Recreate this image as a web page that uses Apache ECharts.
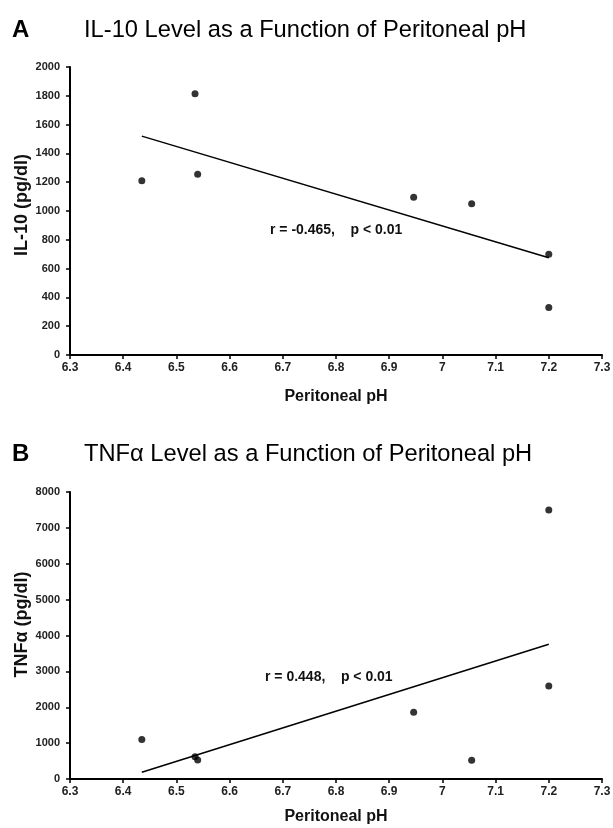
<!DOCTYPE html>
<html>
<head>
<meta charset="utf-8">
<script src="https://cdn.jsdelivr.net/npm/echarts@6/dist/echarts.min.js"></script>
<style>
  html, body { margin: 0; padding: 0; background: #fff; }
  #chart { width: 613px; height: 828px; }
</style>
</head>
<body>
<div id="chart"></div>
<script>
// panel A: IL-10 vs peritoneal pH
const phA = [6.435, 6.535, 6.54, 6.946, 7.055, 7.2, 7.2];
const il10 = [1210, 1815, 1255, 1095, 1050, 700, 330];
const fitPhA = [6.435, 7.2];
const fitIl10 = [1520, 675];

// panel B: TNFa vs peritoneal pH
const phB = [6.435, 6.535, 6.54, 6.946, 7.055, 7.2, 7.2];
const tnf = [1100, 620, 530, 1860, 520, 7495, 2595];
const fitPhB = [6.435, 7.2];
const fitTnf = [190, 3755];

const FONT = '"Liberation Sans", Arial, sans-serif';

const pairs = (xs, ys) => xs.map((x, i) => [x, ys[i]]);

const xAxisBase = (gridIndex, nameGap) => ({
  gridIndex,
  type: 'value',
  min: 6.3,
  max: 7.3,
  interval: 0.1,
  name: 'Peritoneal pH',
  nameLocation: 'middle',
  nameGap,
  nameMoveOverlap: false,
  nameTextStyle: { fontFamily: FONT, fontWeight: 'bold', fontSize: 16, color: '#111' },
  axisLine: { lineStyle: { color: '#000', width: 2 } },
  axisTick: { show: true, inside: false, length: 4, lineStyle: { color: '#000', width: 1.5 } },
  axisLabel: {
    margin: 7,
    fontFamily: FONT, fontWeight: 'bold', fontSize: 12, color: '#222',
    formatter: v => String(+v.toFixed(1))
  },
  splitLine: { show: false }
});

// shift = how far the rotated name sits above the plot middle
const yAxisBase = (gridIndex, max, interval, name, shift) => ({
  gridIndex,
  type: 'value',
  min: 0,
  max,
  interval,
  name,
  nameLocation: 'middle',
  nameGap: 39,
  nameMoveOverlap: false,
  nameTextStyle: {
    fontFamily: FONT, fontWeight: 'bold', fontSize: 18, color: '#111',
    padding: [0, 0, 0, shift * 2]
  },
  axisLine: { show: true, lineStyle: { color: '#000', width: 2 } },
  axisTick: { show: true, inside: false, length: 4, lineStyle: { color: '#000', width: 1.5 } },
  axisLabel: {
    margin: 10,
    fontFamily: FONT, fontWeight: 'bold', fontSize: 11, color: '#222',
    formatter: v => String(v)
  },
  splitLine: { show: false }
});

const chart = echarts.init(document.getElementById('chart'));
chart.setOption({
  backgroundColor: '#fff',
  animation: false,
  grid: [
    { left: 70, width: 532, top: 67, height: 288, outerBoundsMode: 'none' },
    { left: 70, width: 532, top: 492, height: 287, outerBoundsMode: 'none' }
  ],
  xAxis: [xAxisBase(0, 34), xAxisBase(1, 30)],
  yAxis: [
    yAxisBase(0, 2000, 200, 'IL-10 (pg/dl)', 6),
    yAxisBase(1, 8000, 1000, 'TNFα (pg/dl)', 11)
  ],
  series: [
    {
      type: 'scatter', xAxisIndex: 0, yAxisIndex: 0,
      symbol: 'circle', symbolSize: 7,
      itemStyle: { color: '#000' },
      data: pairs(phA, il10)
    },
    {
      type: 'line', xAxisIndex: 0, yAxisIndex: 0,
      showSymbol: false, silent: true,
      lineStyle: { color: '#000', width: 1.5 },
      data: pairs(fitPhA, fitIl10)
    },
    {
      type: 'scatter', xAxisIndex: 1, yAxisIndex: 1,
      symbol: 'circle', symbolSize: 7,
      itemStyle: { color: '#000' },
      data: pairs(phB, tnf)
    },
    {
      type: 'line', xAxisIndex: 1, yAxisIndex: 1,
      showSymbol: false, silent: true,
      lineStyle: { color: '#000', width: 1.5 },
      data: pairs(fitPhB, fitTnf)
    }
  ],
  graphic: [
    { type: 'text', left: 12, top: 18, style: { text: 'A', font: 'bold 24px ' + FONT, fill: '#000' } },
    { type: 'text', left: 84, top: 18, style: { text: 'IL-10 Level as a Function of Peritoneal pH', font: '23.7px ' + FONT, fill: '#000' } },
    { type: 'text', left: 12, top: 442, style: { text: 'B', font: 'bold 24px ' + FONT, fill: '#000' } },
    { type: 'text', left: 84, top: 442, style: { text: 'TNFα Level as a Function of Peritoneal pH', font: '23.7px ' + FONT, fill: '#000' } },
    { type: 'text', left: 270, top: 223, style: { text: 'r = -0.465,    p < 0.01', font: 'bold 14px ' + FONT, fill: '#111' } },
    { type: 'text', left: 265, top: 670, style: { text: 'r = 0.448,    p < 0.01', font: 'bold 14px ' + FONT, fill: '#111' } }
  ]
});
</script>
</body>
</html>
